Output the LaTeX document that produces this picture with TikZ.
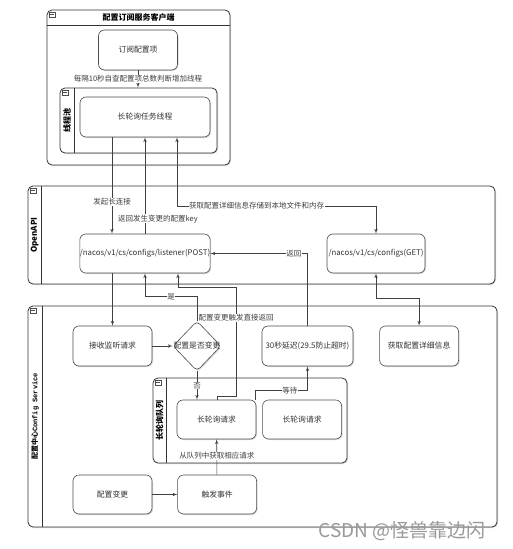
\documentclass[tikz,border=0pt]{standalone}
\usepackage{fontspec}
\setmainfont{Noto Sans CJK SC}
\setmonofont{Liberation Mono}
\usepackage{tikz}
\usetikzlibrary{shapes.geometric, arrows, positioning, shadows}
\tikzstyle{lane} = [rectangle, rounded corners=5pt, draw=black!80, line width=0.8pt, fill=white, drop shadow={shadow xshift=1pt, shadow yshift=-1pt, opacity=0.3}, inner sep=0pt]
\tikzstyle{process} = [rectangle, rounded corners=6pt, minimum width=79pt, minimum height=40pt, text centered, draw=black!70, line width=0.6pt, fill=white, drop shadow={shadow xshift=1pt, shadow yshift=-1pt, opacity=0.3}, inner sep=0pt, text=black!80, font=\fontsize{7.8}{10}\selectfont]
\tikzstyle{decision} = [diamond, rounded corners=4pt, minimum width=48pt, minimum height=50pt, inner sep=0pt, draw=black!70, line width=0.6pt, fill=white, drop shadow={shadow xshift=1pt, shadow yshift=-1pt, opacity=0.3}, text=black!80, font=\fontsize{7.8}{10}\selectfont]
\tikzstyle{line} = [draw, black!75, line width=0.6pt, -latex']
\tikzstyle{both} = [draw, black!75, line width=0.6pt, latex'-latex']
\tikzstyle{tag} = [fill=white, inner sep=0.5pt, text=black!75, font=\fontsize{7.5}{9}\selectfont]
\tikzstyle{lanetitle} = [inner sep=0pt, font=\fontsize{8}{10}\selectfont\bfseries]
\tikzstyle{fold} = [rectangle, draw=black!70, fill=white, minimum width=6pt, minimum height=5pt, inner sep=0pt, line width=0.4pt, path picture={\draw[line width=1pt, black!70] ([xshift=1pt]path picture bounding box.west) -- ([xshift=-1pt]path picture bounding box.east);}]

\begin{document}
\begin{tikzpicture}[x=1pt, y=-1pt, node distance=25pt]
    \useasboundingbox (0,0) rectangle (513,549);
    % Lanes
    \node [lane, minimum width=183pt, minimum height=155pt] (client) at (138.5,87.5) {};
    \node [lane, minimum width=467pt, minimum height=98pt] (openapi) at (261.5,235) {};
    \node [lane, minimum width=469pt, minimum height=221pt] (server) at (262.5,416.5) {};
    \node [lane, minimum width=157pt, minimum height=65pt] (pool) at (138.5,120.5) {};
    \node [lane, minimum width=194pt, minimum height=85pt] (queue) at (250,420.5) {};
    \draw [black!80, line width=0.8pt] ([yshift=-16pt]client.north west) -- ([yshift=-16pt]client.north east);
    \foreach \l/\w in {pool/15, openapi/14, server/15, queue/14}
        \draw [black!80, line width=0.8pt] ([xshift=\w pt]\l.north west) -- ([xshift=\w pt]\l.south west);
    \foreach \l in {client, pool, openapi, server, queue}
        \node [fold, below right=2pt and 2.5pt of \l.north west] (f\l) {};

    % Lane titles
    \node [lanetitle] (tclient) at ([yshift=-8pt]client.north) {配置订阅服务客户端};
    \node [lanetitle, rotate=90] (tpool) at ([xshift=7.5pt]pool.west) {线程池};
    \node [lanetitle, rotate=90] (topen) at ([xshift=7pt]openapi.west) {OpenAPI};
    \node [lanetitle, rotate=90, font=\fontsize{7}{9}\selectfont\bfseries] (tserver) at ([xshift=7.5pt]server.west) {配置中心\texttt{Config Service}};
    \node [lanetitle, rotate=90] (tqueue) at ([xshift=7pt]queue.west) {长轮询队列};

    % Nodes
    \node [process] (sub) at (138,50) {订阅配置项};
    \node [process, minimum width=130pt] (task) at (145,117) {长轮询任务线程};
    \node [process, minimum width=130pt, minimum height=39pt] (listen) at (145,253.5) {/nacos/v1/cs/configs/listener(POST)};
    \node [process, minimum width=98pt, minimum height=39pt] (get) at (376,253.5) {/nacos/v1/cs/configs(GET)};
    \node [process] (recv) at (112.5,346) {接收监听请求};
    \node [decision] (chg) at (197,346) {\makebox[0pt]{配置是否变更}};
    \node [process, minimum width=91pt] (delay) at (307.5,346) {30秒延迟(29.5防止超时)};
    \node [process, right=26pt of delay] (detail) {获取配置详细信息};
    \node [process, minimum height=39pt] (poll1) at (216.5,419.5) {长轮询请求};
    \node [process, minimum height=39pt, right=6pt of poll1] (poll2) {长轮询请求};
    \node [process, minimum height=39pt] (update) at (112.5,494.5) {配置变更};
    \node [process, minimum height=39pt, right=25pt of update] (fire) {触发事件};
    \coordinate (back) at (236,287);

    % Edges
    \path [line] (sub.south) -- node [tag] {每隔10秒自查配置项总数判断增加线程} (sub.south |- pool.north);
    \path [line] ([xshift=-33pt]task.south) -- node [tag, pos=0.67] {发起长连接} ([xshift=-33pt]listen.north);
    \path [line] (listen.north) -- node [tag, pos=0.155, xshift=13pt] {返回发生变更的配置key} (task.south);
    \path [both] ([xshift=32pt]task.south) |- node [tag, pos=0.7] {获取配置详细信息存储到本地文件和内存} (get.north |- 0,206) -- (get.north);
    \path [line] (recv.north |- listen.south) -- (recv.north);
    \path [line] (recv) -- (chg);
    \path [line] (chg.north) -- ++(0,-24) -| node [tag, pos=0.25] {是} (listen.south);
    \path [line] (chg.south) -- node [tag] {否} (chg.south |- poll1.north);
    \path [line] ([xshift=0.5pt]poll1.north) -- ++(0,-3) -| node [tag, pos=0.86] {配置变更触发直接返回} (back) -| ([xshift=33pt]listen.south);
    \path [line] (delay.north) |- node [tag, pos=0.57] {返回} (listen.east);
    \path [line] ([xshift=-1pt]poll1.north east) -- ++(0,-9) -| node [tag, pos=0.33] {等待} (delay.south);
    \path [line] (fire) -- node [tag, pos=0.53] {从队列中获取相应请求} (poll1);
    \path [line] (update) -- (fire);
    \path [both] (get.south) -- ++(0,25) -| (detail.north);

    \node [text=black!40, font=\fontsize{19}{21}\selectfont] (mark) at (402,531) {CSDN @怪兽靠边闪};
\end{tikzpicture}
\end{document}
